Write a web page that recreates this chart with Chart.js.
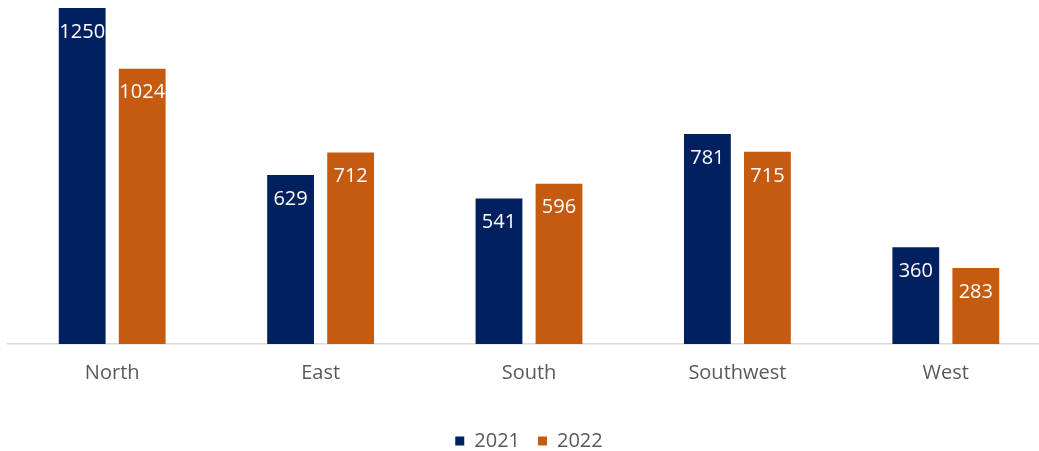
<!DOCTYPE html>
<html>
<head>
<meta charset="utf-8">
<script src="https://cdn.jsdelivr.net/npm/chart.js@4.4.1/dist/chart.umd.min.js"></script>
<style>
  html, body { margin: 0; padding: 0; background: #fff; overflow: hidden; }
  #wrap { position: relative; width: 1058px; height: 451px; }
</style>
</head>
<body>
<div id="wrap"><canvas id="c"></canvas></div>
<script>
const categories = ["North", "East", "South", "Southwest", "West"];
const seriesNames = ["2021", "2022"];
const values2021 = [1250, 629, 541, 781, 360];
const values2022 = [1024, 712, 596, 715, 283];
const colors = ["#002060", "#C55A11"];

const FONT = "'Open Sans', 'Noto Sans', sans-serif";

const barLabels = {
  id: 'barLabels',
  afterDatasetsDraw(chart) {
    const ctx = chart.ctx;
    ctx.save();
    ctx.font = "20px " + FONT;
    ctx.fillStyle = "#ffffff";
    ctx.textAlign = "center";
    ctx.textBaseline = "middle";
    chart.data.datasets.forEach((ds, i) => {
      chart.getDatasetMeta(i).data.forEach((bar, j) => {
        ctx.fillText(String(ds.data[j]), bar.x, bar.y + 24);
      });
    });
    ctx.restore();
  }
};

new Chart(document.getElementById('c'), {
  type: 'bar',
  data: {
    labels: categories,
    datasets: [
      { label: seriesNames[0], data: values2021, backgroundColor: colors[0] },
      { label: seriesNames[1], data: values2022, backgroundColor: colors[1] }
    ]
  },
  options: {
    responsive: true,
    maintainAspectRatio: false,
    animation: false,
    datasets: { bar: { categoryPercentage: 0.576, barPercentage: 0.78 } },
    layout: { padding: { left: 8, right: 8, top: 8, bottom: -10 } },
    plugins: {
      tooltip: { enabled: false },
      legend: {
        position: 'bottom',
        labels: {
          boxWidth: 9, boxHeight: 9, padding: 18,
          color: '#595959',
          font: { family: FONT, size: 20 }
        }
      }
    },
    scales: {
      x: {
        grid: { display: false, drawTicks: false },
        border: { display: true, color: '#d9d9d9', width: 1.5 },
        ticks: { color: '#595959', font: { family: FONT, size: 20 }, padding: 17 },
        afterFit(scale) { scale.height = 69; }
      },
      y: {
        display: false,
        min: 0,
        max: 1250
      }
    }
  },
  plugins: [barLabels]
});
</script>
</body>
</html>
